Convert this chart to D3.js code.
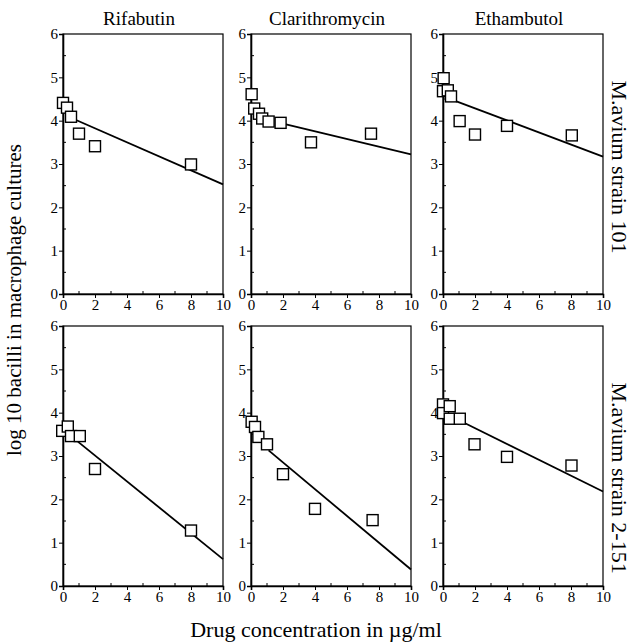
<!DOCTYPE html>
<html>
<head>
<meta charset="utf-8">
<script src="https://cdn.jsdelivr.net/npm/d3@7"></script>
<style>
  body { margin: 0; background: #fff; }
  text { font-family: "Liberation Serif", "DejaVu Serif", serif; fill: #000; }
</style>
</head>
<body>
<div id="chart"></div>
<script>
// drug names (columns) and strains (rows)
var drugs = ["Rifabutin", "Clarithromycin", "Ethambutol"];
var strains = ["M.avium strain 101", "M.avium strain 2-151"];

// measured points, [concentration, log10 bacilli]
var rif101 = [[0, 4.41], [0.25, 4.3], [0.5, 4.09], [1, 3.7], [2, 3.41], [8, 2.99]];
var cla101 = [[0.04, 4.61], [0.2, 4.28], [0.5, 4.16], [0.7, 4.05], [1.1, 3.98], [1.85, 3.95], [3.75, 3.5], [7.5, 3.7]];
var eth101 = [[0.04, 4.98], [0, 4.68], [0.3, 4.7], [0.5, 4.56], [1.04, 3.99], [2, 3.68], [4, 3.88], [8.05, 3.66]];
var rif2151 = [[-0.05, 3.58], [0.3, 3.68], [0.5, 3.46], [1.05, 3.46], [2, 2.7], [8, 1.28]];
var cla2151 = [[0.04, 3.79], [0.25, 3.67], [0.46, 3.44], [1, 3.27], [2, 2.58], [4, 1.78], [7.6, 1.52]];
var eth2151 = [[0, 4.19], [0, 3.99], [0.42, 4.15], [0.42, 3.86], [1.05, 3.86], [1.97, 3.27], [4, 2.98], [8.03, 2.78]];

// regression lines, [start, end]
var rif101Fit = [[0.6, 4.05], [10, 2.53]];
var cla101Fit = [[1.8, 3.95], [10, 3.22]];
var eth101Fit = [[0.3, 4.52], [10, 3.17]];
var rif2151Fit = [[0.6, 3.43], [10, 0.62]];
var cla2151Fit = [[1.1, 3.13], [10, 0.38]];
var eth2151Fit = [[1.35, 3.76], [10, 2.18]];

var xTicks = [0, 2, 4, 6, 8, 10];
var yTicks = [0, 1, 2, 3, 4, 5, 6];

var panels = [
    { row: 0, col: 0, pts: rif101, fit: rif101Fit },
    { row: 0, col: 1, pts: cla101, fit: cla101Fit },
    { row: 0, col: 2, pts: eth101, fit: eth101Fit },
    { row: 1, col: 0, pts: rif2151, fit: rif2151Fit },
    { row: 1, col: 1, pts: cla2151, fit: cla2151Fit },
    { row: 1, col: 2, pts: eth2151, fit: eth2151Fit }
];

var width = 638, height = 643;
var colX = [63, 251, 443];
var rowY = [34, 326];
var pw = 160, ph = 260;
var sq = 11;

var svg = d3.select("#chart").append("svg")
    .attr("width", width)
    .attr("height", height);

var x = d3.scaleLinear().domain([0, 10]).range([0, pw]);
var y = d3.scaleLinear().domain([0, 6]).range([ph, 0]);

panels.forEach(function (p) {
    var g = svg.append("g")
        .attr("transform", "translate(" + colX[p.col] + "," + rowY[p.row] + ")");

    // frame
    g.append("rect")
        .attr("width", pw).attr("height", ph)
        .attr("fill", "none").attr("stroke", "#000").attr("stroke-width", 1.2);

    // minor ticks, inside
    g.selectAll(".ymin").data(d3.range(0.5, 6, 1)).enter().append("line")
        .attr("x1", 0).attr("x2", 3)
        .attr("y1", function (d) { return y(d); }).attr("y2", function (d) { return y(d); })
        .attr("stroke", "#000");
    g.selectAll(".xmin").data(d3.range(1, 10, 2)).enter().append("line")
        .attr("y1", ph).attr("y2", ph - 3)
        .attr("x1", function (d) { return x(d); }).attr("x2", function (d) { return x(d); })
        .attr("stroke", "#000");

    var yAxis = d3.axisLeft(y).tickValues(yTicks).tickFormat(d3.format("d")).tickSize(4).tickPadding(1);
    var xAxis = d3.axisBottom(x).tickValues(xTicks).tickFormat(d3.format("d")).tickSize(4).tickPadding(1);

    var ya = g.append("g").call(yAxis);
    var xa = g.append("g").attr("transform", "translate(0," + ph + ")").call(xAxis);
    [ya, xa].forEach(function (a) {
        a.attr("font-family", null);
        a.select(".domain").attr("stroke-width", 1.6);
        a.selectAll("text")
            .style("font-family", "'Liberation Serif', serif")
            .style("font-size", "15px");
    });

    // fit line
    g.append("line")
        .attr("x1", x(p.fit[0][0])).attr("y1", y(p.fit[0][1]))
        .attr("x2", x(p.fit[1][0])).attr("y2", y(p.fit[1][1]))
        .attr("stroke", "#000").attr("stroke-width", 1.8);

    // points
    g.selectAll(".pt").data(p.pts).enter().append("rect")
        .attr("class", "pt")
        .attr("x", function (d) { return x(d[0]) - sq / 2; })
        .attr("y", function (d) { return y(d[1]) - sq / 2; })
        .attr("width", sq).attr("height", sq)
        .attr("fill", "#fff").attr("stroke", "#000").attr("stroke-width", 1.4);
});

// column titles
drugs.forEach(function (d, i) {
    svg.append("text")
        .attr("x", colX[i] + pw / 2 - 4).attr("y", 25)
        .attr("text-anchor", "middle")
        .attr("font-size", 19)
        .text(d);
});

// row labels on the right
var strainY = [167, 478];
strains.forEach(function (s, i) {
    svg.append("text")
        .attr("transform", "translate(612," + strainY[i] + ") rotate(90)")
        .attr("text-anchor", "middle")
        .attr("font-size", 22)
        .text(s);
});

svg.append("text")
    .attr("transform", "translate(21,300) rotate(-90)")
    .attr("text-anchor", "middle")
    .attr("font-size", 21)
    .text("log 10 bacilli in macrophage cultures");

svg.append("text")
    .attr("x", 316).attr("y", 637)
    .attr("text-anchor", "middle")
    .attr("font-size", 22)
    .text("Drug concentration in \u00b5g/ml");
</script>
</body>
</html>
